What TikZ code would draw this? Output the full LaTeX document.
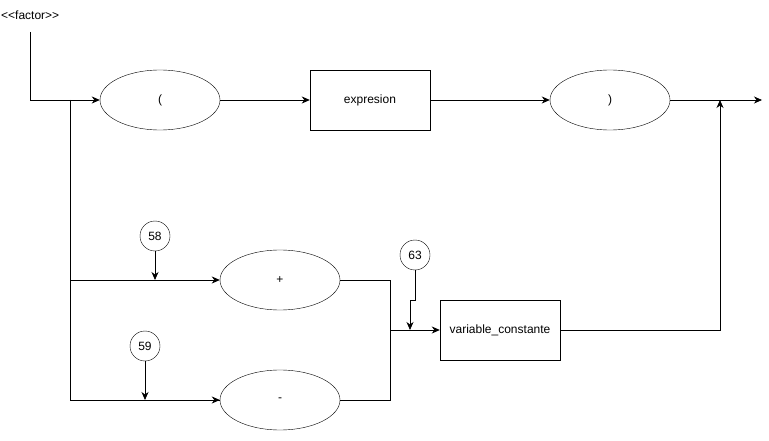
\documentclass[tikz,border=0pt]{standalone}
\usepackage{fontspec}
\setmainfont{Liberation Sans}
\usetikzlibrary{arrows.meta,shapes.geometric}
\begin{document}
\begin{tikzpicture}[x=1pt,y=-1pt,
  every node/.style={font=\fontsize{12}{14}\selectfont, inner sep=0pt},
  oval/.style={draw, ellipse, minimum width=120pt, minimum height=60pt},
  rbox/.style={draw, rectangle, minimum width=120pt, minimum height=60pt},
  num/.style={draw, circle, minimum size=30pt},
  flow/.style={draw, line width=0.8pt, -{Stealth[length=8pt,width=7pt,inset=2.5pt]}},
  wire/.style={draw, line width=0.8pt}]
\useasboundingbox (0,0) rectangle (769,441);

% title
\node[anchor=west] (title) at (1,15) {<{}<factor>{}>};

% main row
\node[oval] (lp) at (160,100) {(};
\node[rbox] (expr) at (370,100) {expresion};
\node[oval] (rp) at (610,100) {)};
\coordinate (out) at (762,100);
\coordinate (merge) at (720,100);

% alternative row
\node[oval] (plus) at (280,280) {+};
\node[oval] (minus) at (280,400) {-};
\node[rbox] (var) at (500,330) {variable\_constante};

% numbered markers
\node[num] (n58) at (155,236) {58};
\node[num] (n59) at (145,346) {59};
\node[num] (n63) at (415,255) {63};

% entry and branch points
\coordinate (start) at (30,32);
\coordinate (split) at (70,100);
\coordinate (join) at (390,330);

% main path
\draw[flow] (start) |- (lp.west);
\draw[flow] (lp.east) -- (expr.west);
\draw[flow] (expr.east) -- (rp.west);
\draw[flow] (rp.east) -- (out);

% branches to + and -
\draw[wire] (split) |- (minus.west);
\draw[flow] (split |- plus.west) -- (plus.west);
\draw[flow] (split |- minus.west) -- (minus.west);

% merge into variable_constante
\draw[wire] (plus.east) -| (join);
\draw[wire] (minus.east) -| (join);
\draw[flow] (join) -- (var.west);

% back to the exit line
\draw[flow] (var.east) -| (merge);

% marker arrows
\draw[flow] (n58.south) -- (155,280);
\draw[flow] (n59.south) -- (145,400);
\draw[flow] (n63.south) -- (415,300) -- (410,300) -- (410,330);
\end{tikzpicture}
\end{document}
